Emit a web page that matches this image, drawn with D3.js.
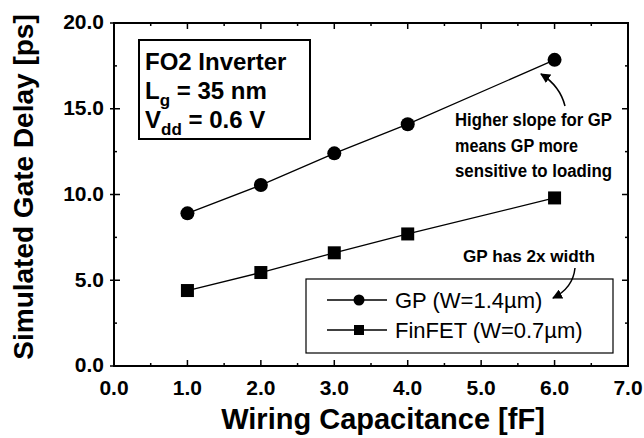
<!DOCTYPE html>
<html>
<head>
<meta charset="utf-8">
<script src="https://cdn.jsdelivr.net/npm/d3@7"></script>
<style>
  body { margin: 0; background: #fff; }
  text { font-family: "Liberation Sans", Arial, sans-serif; fill: #000; }
  .bold { font-weight: bold; }
  .narrow { font-family: "Liberation Sans Narrow", "Arial Narrow", "Liberation Sans", sans-serif; font-weight: bold; }
</style>
</head>
<body>
<svg width="644" height="438"></svg>
<script>
var wiringCap = [1, 2, 3, 4, 6];
var gpDelay = [8.9, 10.55, 12.4, 14.1, 17.85];
var finfetDelay = [4.4, 5.45, 6.6, 7.7, 9.8];
var xTicks = [0, 1, 2, 3, 4, 5, 6, 7];
var yTicks = [0, 5, 10, 15, 20];
var seriesNames = ["GP (W=1.4\u00b5m)", "FinFET (W=0.7\u00b5m)"];

var svg = d3.select("svg"),
    width = +svg.attr("width"),
    height = +svg.attr("height"),
    margin = {top: 23, right: 16, bottom: 72, left: 114};

var x = d3.scaleLinear().domain([0, 7]).range([margin.left, width - margin.right]);
var y = d3.scaleLinear().domain([0, 20]).range([height - margin.bottom, margin.top]);

var fmt = d3.format(".1f");

// frame
svg.append("rect")
    .attr("x", x(0)).attr("y", y(20))
    .attr("width", x(7) - x(0)).attr("height", y(0) - y(20))
    .attr("fill", "none").attr("stroke", "#000").attr("stroke-width", 2);

// ticks, inward on all four sides
var xMinor = d3.range(0.5, 7, 1);
var yMinor = d3.range(2.5, 20, 5);
var tickG = svg.append("g").attr("stroke", "#000").attr("stroke-width", 1.5);
xTicks.forEach(function(t) {
  tickG.append("line").attr("x1", x(t)).attr("x2", x(t)).attr("y1", y(0)).attr("y2", y(0) - 6);
  tickG.append("line").attr("x1", x(t)).attr("x2", x(t)).attr("y1", y(20)).attr("y2", y(20) + 6);
});
xMinor.forEach(function(t) {
  tickG.append("line").attr("x1", x(t)).attr("x2", x(t)).attr("y1", y(0)).attr("y2", y(0) - 3);
  tickG.append("line").attr("x1", x(t)).attr("x2", x(t)).attr("y1", y(20)).attr("y2", y(20) + 3);
});
yTicks.forEach(function(t) {
  tickG.append("line").attr("x1", x(0) - 4).attr("x2", x(0) + 6).attr("y1", y(t)).attr("y2", y(t));
  tickG.append("line").attr("x1", x(7)).attr("x2", x(7) - 6).attr("y1", y(t)).attr("y2", y(t));
});
yMinor.forEach(function(t) {
  tickG.append("line").attr("x1", x(0)).attr("x2", x(0) + 3).attr("y1", y(t)).attr("y2", y(t));
  tickG.append("line").attr("x1", x(7)).attr("x2", x(7) - 3).attr("y1", y(t)).attr("y2", y(t));
});

// tick labels
svg.append("g").selectAll("text").data(xTicks).enter().append("text")
    .attr("class", "bold")
    .attr("x", function(d) { return x(d); })
    .attr("y", y(0) + 29)
    .attr("text-anchor", "middle")
    .style("font-size", "21px")
    .text(fmt);

svg.append("g").selectAll("text").data(yTicks).enter().append("text")
    .attr("class", "bold")
    .attr("x", x(0) - 10)
    .attr("y", function(d) { return y(d); })
    .attr("dy", "0.3em")
    .attr("text-anchor", "end")
    .style("font-size", "21px")
    .text(fmt);

// axis titles
svg.append("text")
    .attr("class", "bold")
    .attr("x", (x(0) + x(7)) / 2 + 12)
    .attr("y", 429)
    .attr("text-anchor", "middle")
    .style("font-size", "29px")
    .text("Wiring Capacitance [fF]");

svg.append("text")
    .attr("class", "bold")
    .attr("transform", "translate(33," + 187 + ") rotate(-90)")
    .attr("text-anchor", "middle")
    .style("font-size", "28px")
    .text("Simulated Gate Delay [ps]");

// series
var line = d3.line()
    .x(function(d) { return x(d[0]); })
    .y(function(d) { return y(d[1]); });

var gpData = d3.zip(wiringCap, gpDelay);
var finData = d3.zip(wiringCap, finfetDelay);

svg.append("path").datum(gpData)
    .attr("d", line).attr("fill", "none").attr("stroke", "#000").attr("stroke-width", 1.3);
svg.append("path").datum(finData)
    .attr("d", line).attr("fill", "none").attr("stroke", "#000").attr("stroke-width", 1.3);

svg.append("g").selectAll("circle").data(gpData).enter().append("circle")
    .attr("cx", function(d) { return x(d[0]); })
    .attr("cy", function(d) { return y(d[1]); })
    .attr("r", 7).attr("fill", "#000");

svg.append("g").selectAll("rect").data(finData).enter().append("rect")
    .attr("x", function(d) { return x(d[0]) - 6.5; })
    .attr("y", function(d) { return y(d[1]) - 6.5; })
    .attr("width", 13).attr("height", 13).attr("fill", "#000");

// condition box
svg.append("rect")
    .attr("x", 139).attr("y", 40).attr("width", 171).attr("height", 99)
    .attr("fill", "none").attr("stroke", "#000").attr("stroke-width", 2);

var info = svg.append("g").attr("class", "bold").style("font-size", "24px");
info.append("text").attr("x", 145).attr("y", 70).text("FO2 Inverter");
var l2 = info.append("text").attr("x", 145).attr("y", 99);
l2.append("tspan").text("L");
l2.append("tspan").attr("dy", 7).style("font-size", "17px").text("g");
l2.append("tspan").attr("dy", -7).text(" = 35 nm");
var l3 = info.append("text").attr("x", 145).attr("y", 128);
l3.append("tspan").text("V");
l3.append("tspan").attr("dy", 7).style("font-size", "17px").text("dd");
l3.append("tspan").attr("dy", -7).text(" = 0.6 V");

// legend
svg.append("rect")
    .attr("x", 306).attr("y", 279).attr("width", 307).attr("height", 74)
    .attr("fill", "#fff").attr("stroke", "#000").attr("stroke-width", 1.2);

var legend = svg.append("g").selectAll("g").data(seriesNames).enter().append("g")
    .attr("transform", function(d, i) { return "translate(0," + (300 + i * 30) + ")"; });
legend.append("line")
    .attr("x1", 327).attr("x2", 387).attr("y1", 0).attr("y2", 0)
    .attr("stroke", "#000").attr("stroke-width", 1.5);
legend.filter(function(d, i) { return i === 0; }).append("circle")
    .attr("cx", 359).attr("cy", 0).attr("r", 5.5).attr("fill", "#000");
legend.filter(function(d, i) { return i === 1; }).append("rect")
    .attr("x", 354).attr("y", -5).attr("width", 10).attr("height", 10).attr("fill", "#000");
legend.append("text")
    .attr("x", 395).attr("y", 0).attr("dy", "0.36em")
    .style("font-size", "22px")
    .text(function(d) { return d; });

// annotations (drawn last so the arrow reaches into the legend)
svg.append("defs").append("marker")
    .attr("id", "head")
    .attr("viewBox", "0 0 10 10")
    .attr("refX", 9).attr("refY", 5)
    .attr("markerWidth", 10).attr("markerHeight", 10)
    .attr("markerUnits", "userSpaceOnUse")
    .attr("orient", "auto")
  .append("path").attr("d", "M0,0L10,5L0,10z").attr("fill", "#000");

var noteLines = ["Higher slope for GP", "means GP more", "sensitive to loading"];
var noteWidths = [157, 123, 157];
var note = svg.append("g").attr("class", "narrow");
noteLines.forEach(function(s, i) {
  note.append("text").attr("x", 455).attr("y", 126 + i * 25.5)
      .style("font-size", "18px")
      .attr("textLength", noteWidths[i]).attr("lengthAdjust", "spacingAndGlyphs")
      .text(s);
});
note.append("text").attr("x", 463).attr("y", 262)
    .style("font-size", "17px")
    .attr("textLength", 132).attr("lengthAdjust", "spacingAndGlyphs")
    .text("GP has 2x width");

svg.append("path")
    .attr("d", "M565,106 Q560,86 541,74")
    .attr("fill", "none").attr("stroke", "#000").attr("stroke-width", 1.5)
    .attr("marker-end", "url(#head)");
svg.append("path")
    .attr("d", "M575,268 Q573,288 553,298")
    .attr("fill", "none").attr("stroke", "#000").attr("stroke-width", 1.5)
    .attr("marker-end", "url(#head)");
</script>
</body>
</html>
